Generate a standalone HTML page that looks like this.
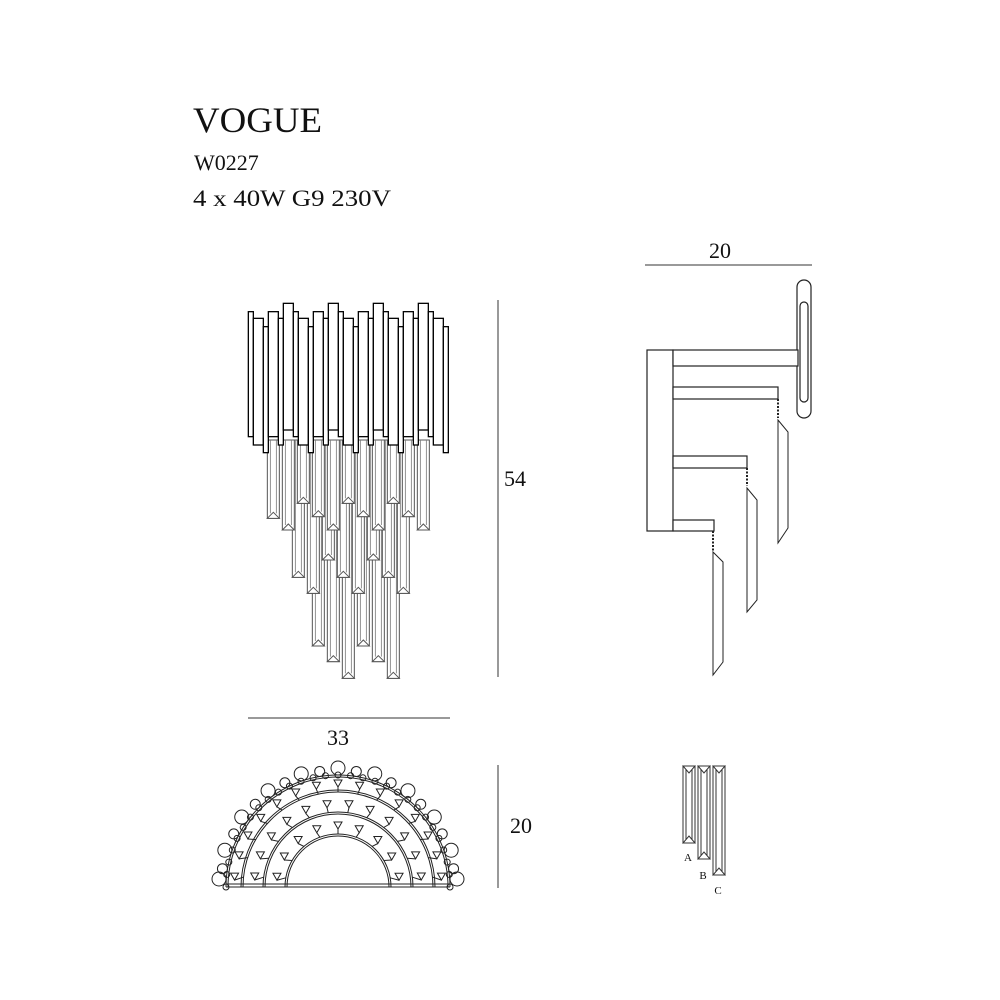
<!DOCTYPE html>
<html><head><meta charset="utf-8"><style>
html,body{margin:0;padding:0;background:#fff}
svg{display:block}
text{font-family:"Liberation Serif",serif;fill:#111}
</style></head><body>
<svg id="s" width="1000" height="1000" viewBox="0 0 1000 1000" xmlns="http://www.w3.org/2000/svg">
<text x="193" y="132" font-size="36" textLength="129" lengthAdjust="spacingAndGlyphs">VOGUE</text>
<text x="194" y="170" font-size="22" textLength="50" lengthAdjust="spacingAndGlyphs" style="display:none">W0227</text>
<text x="194" y="170" font-size="22">W0227</text>
<text x="193" y="206" font-size="23" textLength="198" lengthAdjust="spacingAndGlyphs">4 x 40W G9 230V</text>
<g stroke="#333" stroke-width="1" fill="none">
<line x1="645" y1="265" x2="812" y2="265"/>
<line x1="498" y1="300" x2="498" y2="677"/>
<line x1="248" y1="718" x2="450" y2="718"/>
<line x1="498" y1="765" x2="498" y2="888"/>
</g>
<text x="720" y="258" font-size="22" text-anchor="middle">20</text>
<text x="515" y="486" font-size="22" text-anchor="middle">54</text>
<text x="338" y="745" font-size="22" text-anchor="middle">33</text>
<text x="521" y="833" font-size="22" text-anchor="middle">20</text>
<g id="front"></g>
<g id="side" stroke="#222" stroke-width="1.2" fill="#fff">
<rect x="797" y="280" width="14" height="138" rx="7"/>
<rect x="800" y="302" width="8" height="100" rx="4"/>
<rect x="647" y="350" width="26" height="181"/>
<rect x="673" y="350" width="125" height="16"/>
<rect x="673" y="387" width="105" height="12"/>
<rect x="673" y="456" width="74" height="12"/>
<rect x="673" y="520" width="41" height="11"/>
<g stroke-width="1" fill="none">
<line x1="778" y1="399" x2="778" y2="418" stroke-dasharray="2,1.5" stroke-width="2"/>
<polygon points="778,420 788,432 788,528 778,543"/>
<line x1="747" y1="468" x2="747" y2="486" stroke-dasharray="2,1.5" stroke-width="2"/>
<polygon points="747,488 757,500 757,600 747,612"/>
<line x1="713" y1="531" x2="713" y2="552" stroke-dasharray="2,1.5" stroke-width="2"/>
<polygon points="713,552 723,562 723,662 713,675"/>
</g>
</g>
<g id="plan" stroke="#222" stroke-width="1" fill="none"></g>
<g stroke="#333" stroke-width="1" fill="#fff">
<rect x="683" y="766" width="12" height="77"/><rect x="686" y="766" width="6" height="77"/>
<polygon points="683,766 695,766 689,773"/><polygon points="683,843 695,843 689,836"/>
<rect x="698" y="766" width="12" height="93"/><rect x="701" y="766" width="6" height="93"/>
<polygon points="698,766 710,766 704,773"/><polygon points="698,859 710,859 704,852"/>
<rect x="713" y="766" width="12" height="109"/><rect x="716" y="766" width="6" height="109"/>
<polygon points="713,766 725,766 719,773"/><polygon points="713,875 725,875 719,868"/>
</g>
<text x="688" y="861" font-size="11" text-anchor="middle">A</text>
<text x="703" y="879" font-size="11" text-anchor="middle">B</text>
<text x="718" y="894" font-size="11" text-anchor="middle">C</text>
</svg>
<script>
var NS="http://www.w3.org/2000/svg";
function el(p,t,a){var e=document.createElementNS(NS,t);for(var k in a)e.setAttribute(k,a[k]);p.appendChild(e);return e;}
var f=document.getElementById("front");
var cr=[[100,685],[145,720],[190,640],[235,680],[280,720],[325,640],[370,680],[415,720],[460,640],[505,680],[550,720],[175,862],[220,910],[265,810],[310,862],[355,910],[400,810],[445,862],[490,910],[235,1068],[280,1115],[325,1165],[370,1068],[415,1115],[460,1165]];
cr=cr.map(function(c){return [c[0]/3+240,c[1]/3+290];});
cr.sort(function(a,b){return b[1]-a[1];});
cr.forEach(function(c){var x=c[0]-6,y=c[1];
el(f,"rect",{x:x,y:440,width:12,height:y-440,fill:"#fff",stroke:"#555","stroke-width":1});
el(f,"line",{x1:x+3,y1:440,x2:x+3,y2:y-5,stroke:"#777","stroke-width":0.8});
el(f,"line",{x1:x+9,y1:440,x2:x+9,y2:y-5,stroke:"#777","stroke-width":0.8});
el(f,"polygon",{points:(x)+","+y+" "+(x+12)+","+y+" "+(x+6)+","+(y-6),fill:"#fff",stroke:"#555","stroke-width":1});
});
var bars=[[25,40,65,440],[40,70,85,465],[70,85,110,488],[85,115,65,440],[115,130,85,465],[130,160,40,420],[160,175,65,440],[175,205,85,465],[205,220,110,488],[220,250,65,440],[250,265,85,465],[265,295,40,420],[295,310,65,440],[310,340,85,465],[340,355,110,488],[355,385,65,440],[385,400,85,465],[400,430,40,420],[430,445,65,440],[445,475,85,465],[475,490,110,488],[490,520,65,440],[520,535,85,465],[535,565,40,420],[565,580,65,440],[580,610,85,465],[610,625,110,488]];
bars.forEach(function(b){el(f,"rect",{x:b[0]/3+240,y:b[2]/3+290,width:(b[1]-b[0])/3,height:(b[3]-b[2])/3,fill:"#fff",stroke:"#000","stroke-width":1.3});});
var p=document.getElementById("plan"),cx=338,cy=887;
function arc(r){el(p,"path",{d:"M"+(cx-r)+","+cy+" A"+r+","+r+" 0 0 1 "+(cx+r)+","+cy});}
[51,53,73,75,95,97,110,112].forEach(arc);
el(p,"line",{x1:cx-112,y1:cy,x2:cx+112,y2:cy});
el(p,"line",{x1:cx-112,y1:cy-3,x2:cx+112,y2:cy-3});
for(var i=0;i<=20;i++){var a=Math.PI*i/20;var r1=(i%2?117:119),rad=(i%2?5:7);
el(p,"circle",{cx:cx-r1*Math.cos(a),cy:cy-r1*Math.sin(a)-(i==0||i==20?8:0),r:rad});}
for(var i=0;i<=28;i++){var a=Math.PI*i/28;el(p,"circle",{cx:cx-112*Math.cos(a),cy:cy-112*Math.sin(a),r:3});}
[[62,9],[84,12],[104,15]].forEach(function(q){for(var i=0;i<q[1];i++){var a=Math.PI*(i+0.5)/q[1];var x=cx-q[0]*Math.cos(a),y=cy-q[0]*Math.sin(a);
el(p,"polygon",{points:(x-4)+","+(y-3)+" "+(x+4)+","+(y-3)+" "+x+","+(y+4)});
el(p,"line",{x1:x,y1:y+4,x2:cx-(q[0]-9)*Math.cos(a),y2:cy-(q[0]-9)*Math.sin(a)});}});
</script>
</body></html>
